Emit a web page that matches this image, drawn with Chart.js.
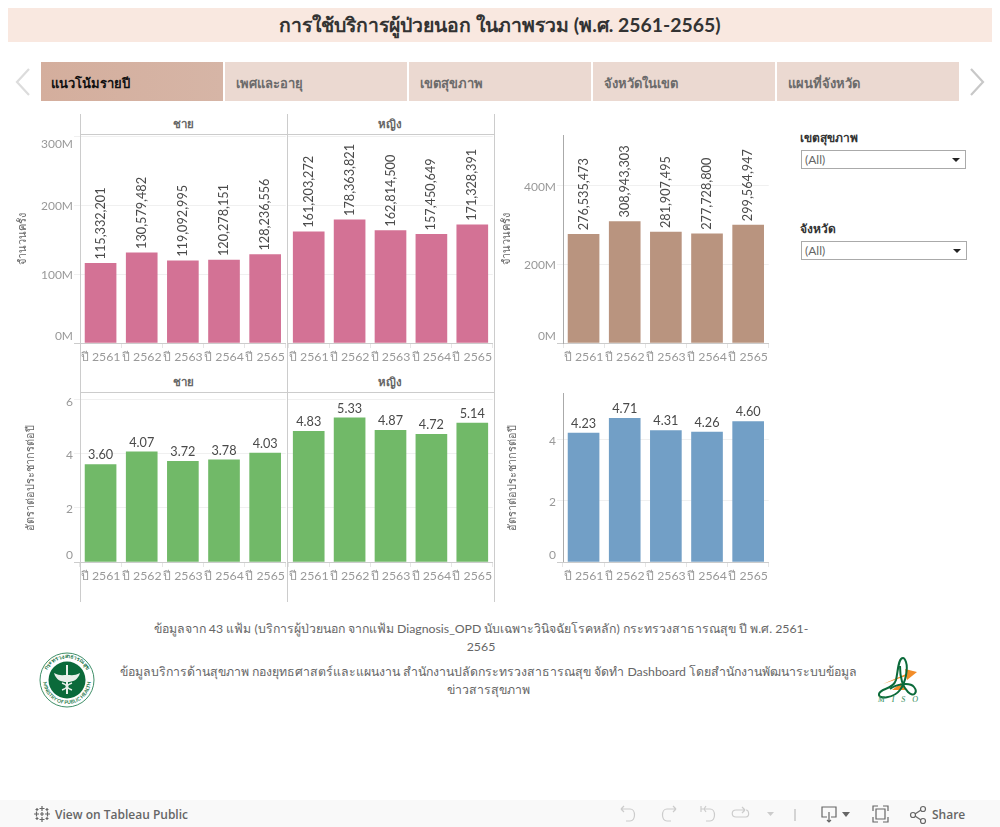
<!DOCTYPE html>
<html lang="th">
<head>
<meta charset="utf-8">
<title>การใช้บริการผู้ป่วยนอก</title>
<script src="https://cdn.jsdelivr.net/npm/chart.js@4"></script>
<style>
  html, body { margin: 0; padding: 0; background: #fff; }
  body { width: 1000px; height: 827px; position: relative; overflow: hidden; font-family: 'Lato', 'Noto Sans', sans-serif; color: #555; }
  .abs { position: absolute; }
  #title { left: 8px; top: 8px; width: 984px; height: 34px; line-height: 34px; background: #f9e8e0; text-align: center; font-size: 19.4px; font-weight: 700; color: #333; }
  .tab { top: 62px; width: 182px; height: 39px; line-height: 43px; background: #ebd9d1; font-size: 13px; font-weight: 700; color: #6b6b6b; text-indent: 11px; }
  .tab.on { background: linear-gradient(90deg, #d4ae9d, #d6b5a6); color: #111; text-indent: 10px; }
  .line { background: #ccc; }
  .facet { font-size: 11.5px; font-weight: 700; color: #666; text-align: center; line-height: 16px; }
  .flabel { left: 800px; font-size: 12px; font-weight: 700; color: #333; }
  .select { left: 801px; width: 163px; height: 17px; border: 1px solid #aaa; font-size: 12px; line-height: 18px; color: #666; text-indent: 3px; }
  .select:after { content: ""; position: absolute; right: 5px; top: 7px; border: 4px solid transparent; border-top: 4px solid #222; border-bottom: 0; }
  .foot { text-align: center; line-height: 18px; color: #666; white-space: nowrap; }
  #bar { left: 0; top: 800px; width: 1000px; height: 27px; background: #f9f9f9; }
  .tb { font-size: 12px; font-weight: 600; font-family: 'Open Sans', sans-serif; color: #666; top: 806px; }
  canvas { position: absolute; }
</style>
</head>
<body>
<div class="abs" id="title">การใช้บริการผู้ป่วยนอก ในภาพรวม (พ.ศ. 2561-2565)</div>

<svg class="abs" style="left:14px;top:68px" width="18" height="28"><path d="M15 1 L3 14 L15 27" fill="none" stroke="#dcdcdc" stroke-width="2.2"/></svg>
<div class="abs tab on" style="left:41px">แนวโน้มรายปี</div>
<div class="abs tab" style="left:225px">เพศและอายุ</div>
<div class="abs tab" style="left:409px">เขตสุขภาพ</div>
<div class="abs tab" style="left:593px">จังหวัดในเขต</div>
<div class="abs tab" style="left:777px">แผนที่จังหวัด</div>
<svg class="abs" style="left:968px;top:68px" width="18" height="28"><path d="M3 1 L15 14 L3 27" fill="none" stroke="#c8c8c8" stroke-width="2.2"/></svg>

<div class="abs facet" style="left:80px;top:116px;width:206px">ชาย</div>
<div class="abs facet" style="left:287px;top:116px;width:206px">หญิง</div>
<div class="abs facet" style="left:80px;top:374px;width:206px">ชาย</div>
<div class="abs facet" style="left:287px;top:374px;width:206px">หญิง</div>

<canvas id="menCount" style="left:16px;top:135px" width="271" height="230"></canvas>
<canvas id="womenCount" style="left:287px;top:135px" width="207" height="230"></canvas>
<canvas id="allCount" style="left:500px;top:135px" width="270" height="230"></canvas>
<canvas id="menRate" style="left:24px;top:393px" width="263" height="191"></canvas>
<canvas id="womenRate" style="left:287px;top:393px" width="207" height="191"></canvas>
<canvas id="allRate" style="left:506px;top:393px" width="264" height="191"></canvas>

<div class="abs line" style="left:80px;top:114px;width:1px;height:488px"></div>
<div class="abs line" style="left:287px;top:114px;width:1px;height:488px"></div>
<div class="abs line" style="left:494px;top:114px;width:1px;height:488px"></div>
<div class="abs line" style="left:81px;top:134px;width:413px;height:1px"></div>
<div class="abs line" style="left:81px;top:392px;width:413px;height:1px"></div>
<div class="abs" style="left:563px;top:135px;width:1px;height:209px;background:#aaa"></div>
<div class="abs" style="left:563px;top:393px;width:1px;height:169px;background:#aaa"></div>

<div class="abs flabel" style="top:128px">เขตสุขภาพ</div>
<div class="abs select" style="top:150px">(All)</div>
<div class="abs flabel" style="top:219px">จังหวัด</div>
<div class="abs select" style="top:241px;width:164px">(All)</div>

<div class="abs foot" style="left:100px;width:762px;top:620px;font-size:12.3px">ข้อมูลจาก 43 แฟ้ม (บริการผู้ป่วยนอก จากแฟ้ม Diagnosis_OPD นับเฉพาะวินิจฉัยโรคหลัก) กระทรวงสาธารณสุข ปี พ.ศ. 2561-<br>2565</div>
<div class="abs" style="left:100px;top:659px;width:778px;height:45px;overflow:hidden">
  <div class="foot" style="position:absolute;left:0;top:4px;width:777px;font-size:12.3px">ข้อมูลบริการด้านสุขภาพ กองยุทธศาสตร์และแผนงาน สำนักงานปลัดกระทรวงสาธารณสุข จัดทำ Dashboard โดยสำนักงานพัฒนาระบบข้อมูล<br>ข่าวสารสุขภาพ</div>
</div>

<!-- โลโก้กระทรวง -->
<svg class="abs" style="left:39px;top:652px" width="56" height="56" viewBox="0 0 56 56">
  <defs>
    <path id="arcTop" d="M6 28a22 22 0 0 1 44 0"/>
    <path id="arcBot" d="M4 28a24 24 0 0 0 48 0"/>
  </defs>
  <circle cx="28" cy="28" r="27" fill="#fff" stroke="#3f8f68" stroke-width="1"/>
  <circle cx="28" cy="28" r="18.500" fill="#0b6a3a"/>
  <text font-size="5.500" font-weight="700" fill="#1f7a4d" text-anchor="middle"><textPath href="#arcTop" startOffset="50%">กระทรวงสาธารณสุข</textPath></text>
  <text font-size="5" font-weight="700" fill="#1f7a4d" text-anchor="middle"><textPath href="#arcBot" startOffset="50%">MINISTRY OF PUBLIC HEALTH</textPath></text>
  <path d="M27 13h2v29h-2z M15 21c5 3 9 2 13 2s8 1 13-2c-2 7-7 9-13 9s-11-2-13-9z" fill="#e8efe9"/>
  <path d="M23 31c6 2 6 5 0 7M33 31c-6 2-6 5 0 7" fill="none" stroke="#e8efe9" stroke-width="1.500"/>
</svg>
<!-- โลโก้ MISO -->
<svg class="abs" style="left:876px;top:656px" width="44" height="48" viewBox="0 0 44 48">
  <path d="M7 28 L30 18 L29 13 L41 16 L31 24 L30 20z M16 34 L25 27 L30 34z" fill="#f28c28"/>
  <path d="M27 2C22 2 22 16 20 24C17 34 4 32 3 38C2 44 18 42 24 34C30 26 32 12 30 6C29 3 28 2 27 2z" fill="none" stroke="#0b6a3a" stroke-width="2"/>
  <path d="M24 10C24 20 26 30 32 36C38 42 42 36 38 31C34 26 20 28 14 33" fill="none" stroke="#0b6a3a" stroke-width="2"/>
  <text x="2" y="46" font-size="8" font-style="italic" font-family="Liberation Serif" fill="#2e8b57" letter-spacing="7">MISO</text>
</svg>

<div class="abs" id="bar"></div>
<svg class="abs" style="left:33px;top:805px" width="18" height="18" viewBox="0 0 18 18" stroke="#666" stroke-width="1.2" fill="none">
  <path d="M9 1v5M6.500 3.500h5M9 12v5M6.500 14.500h5M1 9h5M3.500 6.500v5M12 9h5M14.500 6.500v5M4 3v3M2.500 4.500h3M14 3v3M12.500 4.500h3M4 12v3M2.500 13.500h3M14 12v3M12.500 13.500h3M7 9h4M9 7v4"/>
</svg>
<div class="abs tb" style="left:55px">View on Tableau Public</div>
<svg class="abs" style="left:615px;top:803px" width="190" height="22" stroke="#ccc" stroke-width="1.2" fill="none">
  <path d="M6 6h9c6 0 6 12 0 12h-4M6 6l3-3M6 6l3 3"/>
  <path d="M61 6h-9c-6 0-6 12 0 12h4M61 6l-3-3M61 6l-3 3"/>
  <path d="M86 6h9c6 0 6 12 0 12h-4M86 3v6M89 6l2-3M89 6l2 3"/>
  <path d="M130 7h-9c-5 0-5 7 0 7h10c4 0 3-7 0-7M130 7l-3-3M130 7l-3 3"/>
  <path d="M152 9h7l-3.500 4z" fill="#ccc" stroke="none"/>
  <path d="M180 6v12" stroke="#bbb"/>
</svg>
<svg class="abs" style="left:820px;top:803px" width="108" height="22" stroke="#666" stroke-width="1.2" fill="none">
  <path d="M7 14H2V4h14v10h-5M9 9v10M7 17l2 2 2-2"/>
  <path d="M22 9h8l-4 5z" fill="#666" stroke="none"/>
  <path d="M53 8V3h5M63 3h5v5M68 14v5h-5M58 19h-5v-5"/>
  <path d="M56 6h9v10h-9z"/>
  <circle cx="93" cy="12" r="2.500"/><circle cx="103" cy="6" r="2.500"/><circle cx="103" cy="18" r="2.500"/>
  <path d="M95 11l6-4M95 13l6 4"/>
</svg>
<div class="abs tb" style="left:932px">Share</div>

<script>
// ข้อมูลจากภาพ
const years = ['ปี 2561', 'ปี 2562', 'ปี 2563', 'ปี 2564', 'ปี 2565'];
const menCount = [115332201, 130579482, 119092995, 120278151, 128236556];
const womenCount = [161203272, 178363821, 162814500, 157450649, 171328391];
const allCount = [276535473, 308943303, 281907495, 277728800, 299564947];
const menRate = [3.60, 4.07, 3.72, 3.78, 4.03];
const womenRate = [4.83, 5.33, 4.87, 4.72, 5.14];
const allRate = [4.23, 4.71, 4.31, 4.26, 4.60];

const countTicks = [0, 100000000, 200000000, 300000000];
const allCountTicks = [0, 200000000, 400000000];
const rateTicks = [0, 2, 4, 6];
const allRateTicks = [0, 2, 4];

const titleCount = 'จำนวนครั้ง';
const titleRate = 'อัตราต่อประชากรต่อปี';

const pink = '#d37295';
const brown = '#b9947f';
const green = '#71b968';
const blue = '#729fc6';

const FONT = "'Lato', 'Noto Sans', sans-serif";

function tickText(v, isCount) {
  return isCount ? (v / 1000000) + 'M' : String(v);
}

// ป้ายค่าเหนือแท่ง และป้ายแกน y แบบ Tableau (ดันเข้าในกรอบ)
const labelPlugin = {
  id: 'labelPlugin',
  afterDatasetsDraw(chart, args, opts) {
    const ctx = chart.ctx;
    const values = chart.data.datasets[0].data;
    ctx.save();
    ctx.fillStyle = '#4a4a4a';
    ctx.font = '12.7px ' + FONT;
    chart.getDatasetMeta(0).data.forEach((bar, i) => {
      if (opts.rotate) {
        const text = values[i].toLocaleString('en-US');
        ctx.save();
        ctx.translate(bar.x, bar.y - 4);
        ctx.rotate(-Math.PI / 2);
        ctx.textAlign = 'left';
        ctx.textBaseline = 'middle';
        ctx.fillText(text, 0, 0);
        ctx.restore();
      } else {
        ctx.textAlign = 'center';
        ctx.textBaseline = 'bottom';
        ctx.fillText(values[i].toFixed(2), bar.x, bar.y - 3);
      }
    });
    if (opts.showTicks) {
      const scale = chart.scales.y;
      const area = chart.chartArea;
      ctx.font = '12px ' + FONT;
      ctx.fillStyle = '#999';
      ctx.textAlign = 'right';
      ctx.textBaseline = 'middle';
      scale.ticks.forEach(t => {
        let y = scale.getPixelForValue(t.value);
        y = Math.min(Math.max(y, area.top + 8), area.bottom - 8);
        ctx.fillText(tickText(t.value, opts.isCount), area.left - 7, y + 1);
      });
    }
    ctx.restore();
  }
};

function criarGrafico(id, values, color, yMax, ticksList, axisTitle, axisWidth) {
  const isCount = yMax > 1000;
  const hasAxis = axisWidth > 0;
  return new Chart(document.getElementById(id), {
    type: 'bar',
    data: {
      labels: years,
      datasets: [{ data: values, backgroundColor: color, barThickness: 31, categoryPercentage: 1, barPercentage: 1 }]
    },
    plugins: [labelPlugin],
    options: {
      responsive: false,
      animation: false,
      layout: { padding: 0 },
      events: [],
      plugins: {
        legend: { display: false },
        tooltip: { enabled: false },
        labelPlugin: { rotate: isCount, showTicks: hasAxis, isCount: isCount }
      },
      scales: {
        x: {
          afterFit: s => { s.height = 22; },
          grid: { offset: true, drawOnChartArea: false, tickLength: 5, color: '#e6e6e6' },
          border: { color: '#ccc' },
          ticks: { color: '#999', font: { family: FONT, size: 12.3 }, maxRotation: 0, autoSkip: false, padding: 2 }
        },
        y: {
          min: 0,
          max: yMax,
          afterBuildTicks: s => { s.ticks = ticksList.map(v => ({ value: v })); },
          afterFit: s => { s.width = axisWidth; },
          grid: {
            color: c => c.tick && c.tick.value === 0 ? '#ccc' : '#f0f0f0',
            drawTicks: hasAxis,
            tickLength: 6
          },
          border: { display: false },
          ticks: { display: false },
          title: {
            display: hasAxis,
            text: axisTitle,
            color: '#666',
            padding: 0,
            font: { family: FONT, size: 11 }
          }
        }
      }
    }
  });
}

document.addEventListener('DOMContentLoaded', function () {
  criarGrafico('menCount', menCount, pink, 301500000, countTicks, titleCount, 64);
  criarGrafico('womenCount', womenCount, pink, 301500000, countTicks, '', 0);
  criarGrafico('allCount', allCount, brown, 528700000, allCountTicks, titleCount, 63);
  criarGrafico('menRate', menRate, green, 6.25, rateTicks, titleRate, 56);
  criarGrafico('womenRate', womenRate, green, 6.25, rateTicks, '', 0);
  criarGrafico('allRate', allRate, blue, 5.54, allRateTicks, titleRate, 57);
});
</script>
</body>
</html>
